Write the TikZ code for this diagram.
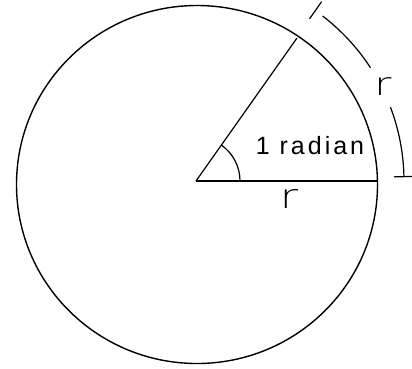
\documentclass[tikz,border=0pt]{standalone}
\usepackage{fontspec}
\usetikzlibrary{calc}
\setmainfont{Liberation Sans}
\newfontfamily\handfont[LetterSpace=12]{Liberation Sans}
\newfontfamily\thinfont{DejaVu Sans ExtraLight}
\begin{document}
\begin{tikzpicture}[x=1pt,y=-1pt,
  rim/.style={line width=1.4pt, black},
  ray/.style={line width=1.2pt, black},
  tickarc/.style={line width=1.2pt, black},
  lbl/.style={inner sep=0pt, text=black},
]
\useasboundingbox (0,0) rectangle (412,368);
% centre and points
\coordinate (O) at (196,181);
\coordinate (E) at (377.5,181);
\coordinate (P) at (297,38);
% circle
\draw[rim] (197,184.5) ellipse [x radius=180.5, y radius=179];
% radii
\draw[ray] (O) -- (E);
\draw[ray] (O) -- (P);
% angle arc
\draw[ray] ($(O)+(44,0)$) arc[start angle=0, end angle=-55, radius=44];
% outer arc with ticks
\draw[tickarc] ($(O)+(-52.5:208)$) arc[start angle=-52.5, end angle=-33, radius=208];
\draw[tickarc] ($(O)+(-20.8:208)$) arc[start angle=-20.8, end angle=-1.2, radius=208];
\draw[tickarc] ($(O)+(-55:198)$) -- ($(O)+(-55:219)$);
\draw[tickarc] ($(O)+(-1.2:198)$) -- ($(O)+(-1.2:216)$);
% labels
\node[lbl, font=\handfont\fontsize{25}{25}\selectfont] (rad) at (310,146) {1 radian};
\node[lbl, font=\thinfont\fontsize{34}{34}\selectfont, xscale=1.3] (r1) at (289,199) {r};
\node[lbl, font=\thinfont\fontsize{32}{32}\selectfont, xscale=1.3] (r2) at (383,87) {r};
\end{tikzpicture}
\end{document}
